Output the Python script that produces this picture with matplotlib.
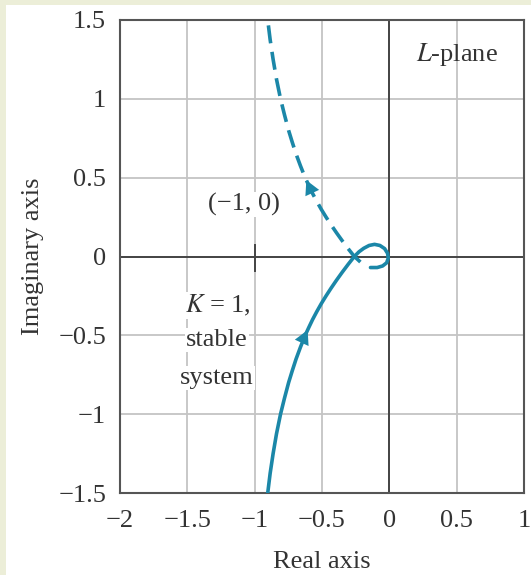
import matplotlib.pyplot as plt
from matplotlib.patches import Rectangle

plt.rcParams['font.family'] = ['Liberation Serif', 'DejaVu Serif']
plt.rcParams['mathtext.fontset'] = 'stix'

# points (real, imag)
solid_re = [-0.903, -0.885, -0.863, -0.838, -0.808, -0.779, -0.748, -0.721, -0.6925,
            -0.66, -0.625, -0.598, -0.57, -0.539, -0.506, -0.47, -0.432, -0.392,
            -0.35, -0.306, -0.26, -0.225, -0.19, -0.15, -0.11, -0.07, -0.035,
            -0.013, -0.008, -0.02, -0.05, -0.09, -0.14]
solid_im = [-1.5, -1.375, -1.25, -1.125, -1.0, -0.9, -0.8, -0.725, -0.65,
            -0.575, -0.5, -0.45, -0.4, -0.35, -0.3, -0.25, -0.2, -0.15,
            -0.1, -0.05, 0.0, 0.03, 0.052, 0.07, 0.077, 0.07, 0.05,
            0.02, -0.01, -0.04, -0.06, -0.07, -0.07]
dash_re = [-0.215, -0.24, -0.26, -0.306, -0.35, -0.392, -0.432, -0.47, -0.506, -0.539,
           -0.57, -0.598, -0.625, -0.66, -0.6925, -0.721, -0.748, -0.779, -0.808,
           -0.838, -0.863, -0.885, -0.903]
dash_im = [-0.035, -0.015, 0.0, 0.05, 0.1, 0.15, 0.2, 0.25, 0.3, 0.35,
           0.4, 0.45, 0.5, 0.575, 0.65, 0.725, 0.8, 0.9, 1.0,
           1.125, 1.25, 1.375, 1.5]

xticks = [-2, -1.5, -1, -0.5, 0, 0.5, 1]
yticks = [-1.5, -1, -0.5, 0, 0.5, 1, 1.5]
ylabels = ['\u22121.5', '\u22121', '\u22120.5', '0', '0.5', '1', '1.5']
xlabels = ['\u22122', '\u22121.5', '\u22121', '\u22120.5', '0', '0.5', '1']

teal = '#1b87a8'
txt = '#333333'
fs = 19
fig = plt.figure(figsize=(5.31, 5.75), dpi=100)
fig.patch.set_facecolor('#eceed8')
bg = Rectangle((6 / 531, 0), 1, 1 - 5 / 575, transform=fig.transFigure,
               facecolor='white', edgecolor='none', zorder=-10)
fig.add_artist(bg)
ax = fig.add_axes([120 / 531, 1 - 493 / 575, (524 - 120) / 531, (493 - 20) / 575])
ax.set_zorder(1)

ax.set_xlim(-2, 1)
ax.set_ylim(-1.5, 1.5)
ax.set_xticks(xticks)
ax.set_xticklabels(xlabels)
ax.set_yticks(yticks)
ax.set_yticklabels(ylabels)
ax.tick_params(length=0, labelsize=fs, colors=txt)
ax.tick_params(axis='x', pad=12)
ax.tick_params(axis='y', pad=10)
ax.grid(True, color='#c4c4c4', linewidth=1.3)
for s in ax.spines.values():
    s.set_color('#555555')
    s.set_linewidth(1.5)
ax.axhline(0, color='#444444', lw=1.4)
ax.axvline(0, color='#444444', lw=1.4)
ax.plot([-1, -1], [-0.09, 0.07], color='#444444', lw=1.4)

ax.plot(solid_re, solid_im, color=teal, lw=2.6, solid_capstyle='round',
        solid_joinstyle='round', zorder=3)
ax.plot(dash_re, dash_im, color=teal, lw=2.6, dashes=(5, 2.4), zorder=3)

# arrows along the curve
arrow = dict(arrowstyle='-|>,head_length=0.6,head_width=0.32', color=teal, lw=0,
             mutation_scale=17)
ax.annotate('', xy=(-0.598, -0.45), xytext=(-0.625, -0.5), arrowprops=arrow, zorder=4)
ax.annotate('', xy=(-0.625, 0.5), xytext=(-0.598, 0.45), arrowprops=arrow, zorder=4)

bb = dict(facecolor='white', edgecolor='none', pad=1)
ax.text(-1.08, 0.33, '(\u22121, 0)', fontsize=fs, ha='center', va='center', color=txt, bbox=bb)
ax.text(0.5, 1.28, '$L$-plane', fontsize=fs, ha='center', va='center', color=txt)
ax.text(-1.27, -0.31, '$K$ = 1,', fontsize=fs, ha='center', va='center', color=txt, bbox=bb)
ax.text(-1.28, -0.53, 'stable', fontsize=fs, ha='center', va='center', color=txt, bbox=bb)
ax.text(-1.28, -0.77, 'system', fontsize=fs, ha='center', va='center', color=txt, bbox=bb)

ax.set_xlabel('Real axis', fontsize=fs, color=txt, labelpad=14)
ax.set_ylabel('Imaginary axis', fontsize=fs, color=txt, labelpad=10)

fig.savefig('out.png', dpi=100, facecolor=fig.get_facecolor())
